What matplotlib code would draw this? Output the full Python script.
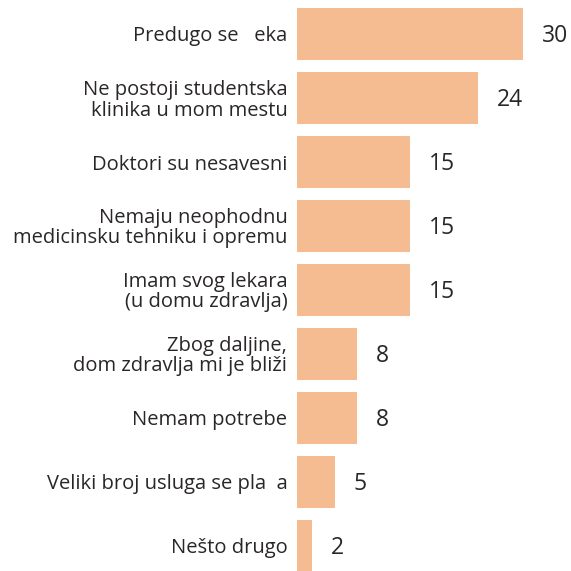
import matplotlib.pyplot as plt

categories = ['Predugo se   eka',
              'Ne postoji studentska\nklinika u mom mestu',
              'Doktori su nesavesni',
              'Nemaju neophodnu\nmedicinsku tehniku i opremu',
              'Imam svog lekara\n(u domu zdravlja)',
              'Zbog daljine,\ndom zdravlja mi je bliži',
              'Nemam potrebe',
              'Veliki broj usluga se pla  a',
              'Nešto drugo']
values = [30, 24, 15, 15, 15, 8, 8, 5, 2]

bar_color = '#f4bc90'
text_color = '#2a2627'

plt.rcParams['font.family'] = ['Open Sans', 'DejaVu Sans']

fig = plt.figure(figsize=(5.71, 5.71), dpi=100)
ax = fig.add_axes([297 / 571, 0, 274 / 571, 1])

pos = list(range(len(values)))
ax.barh(pos, values, height=0.81, color=bar_color)
for p, v in zip(pos, values):
    ax.text(v + 2.5, p + 0.03, str(v), va='center', ha='left', fontsize=16.5, color=text_color)

ax.set_xlim(0, 274 / 7.53)
ax.set_ylim((571 - 34) / 64, -34 / 64)
ax.set_yticks(pos)
ax.set_yticklabels(categories, fontsize=14.5, color=text_color, linespacing=1.0)
ax.tick_params(axis='y', length=0, pad=7)
ax.set_xticks([])
for s in ax.spines.values():
    s.set_visible(False)

fig.savefig('out.png', dpi=100)
